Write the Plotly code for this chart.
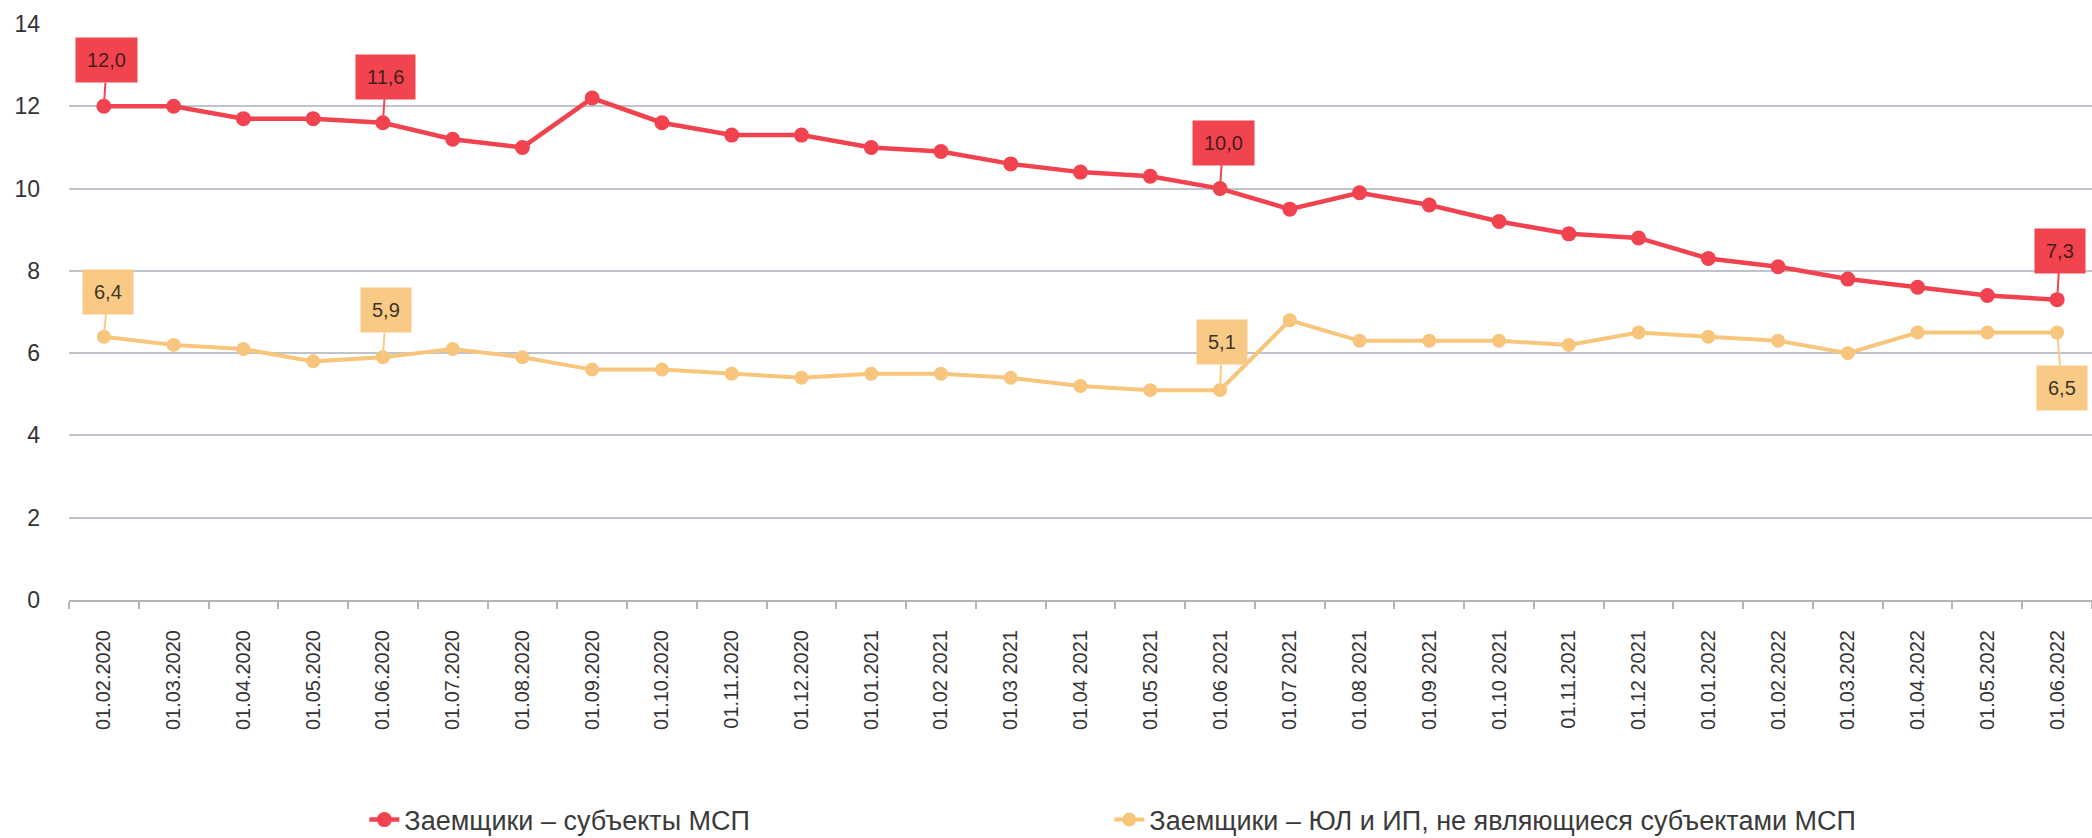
import plotly.graph_objects as go

dates = ["01.02.2020", "01.03.2020", "01.04.2020", "01.05.2020", "01.06.2020", "01.07.2020",
         "01.08.2020", "01.09.2020", "01.10.2020", "01.11.2020", "01.12.2020", "01.01.2021",
         "01.02 2021", "01.03 2021", "01.04 2021", "01.05 2021", "01.06 2021", "01.07 2021",
         "01.08 2021", "01.09 2021", "01.10 2021", "01.11.2021", "01.12 2021", "01.01.2022",
         "01.02.2022", "01.03.2022", "01.04.2022", "01.05.2022", "01.06.2022"]

msp = [12.0, 12.0, 11.7, 11.7, 11.6, 11.2, 11.0, 12.2, 11.6, 11.3, 11.3, 11.0, 10.9, 10.6, 10.4,
       10.3, 10.0, 9.5, 9.9, 9.6, 9.2, 8.9, 8.8, 8.3, 8.1, 7.8, 7.6, 7.4, 7.3]

non_msp = [6.4, 6.2, 6.1, 5.8, 5.9, 6.1, 5.9, 5.6, 5.6, 5.5, 5.4, 5.5, 5.5, 5.4, 5.2,
           5.1, 5.1, 6.8, 6.3, 6.3, 6.3, 6.2, 6.5, 6.4, 6.3, 6.0, 6.5, 6.5, 6.5]

series_names = ["Заемщики – субъекты МСП",
                "Заемщики – ЮЛ и ИП, не являющиеся субъектами МСП"]

labelled_idx = [0, 4, 16, 28]

RED = "#F0434F"
RED_BOX = "#F2444F"
ORANGE = "#F8C57C"
ORANGE_BOX = "#F9CA86"
FONT = "Liberation Sans, Arial, sans-serif"

fig = go.Figure()
fig.add_trace(go.Scatter(x=dates, y=msp, name=series_names[0], mode="lines+markers",
                         line=dict(color=RED, width=4.5),
                         marker=dict(color=RED, size=15, symbol="circle")))
fig.add_trace(go.Scatter(x=dates, y=non_msp, name=series_names[1], mode="lines+markers",
                         line=dict(color=ORANGE, width=4),
                         marker=dict(color=ORANGE, size=14, symbol="circle")))

def fmt(v):
    return f"{v:.1f}".replace(".", ",")

red_offsets = [(3, -46), (3, -46), (3, -46), (3, -49)]
orange_offsets = [(4, -45), (3, -47), (2, -48), (5, 55)]

for k, i in enumerate(labelled_idx):
    ax, ay = red_offsets[k]
    fig.add_annotation(x=dates[i], y=msp[i], text=fmt(msp[i]), showarrow=True,
                       arrowhead=0, arrowwidth=2, arrowcolor=RED_BOX, ax=ax, ay=ay,
                       bgcolor=RED_BOX, borderpad=11,
                       font=dict(family=FONT, size=20, color="#4a1c1c"))
    ax, ay = orange_offsets[k]
    fig.add_annotation(x=dates[i], y=non_msp[i], text=fmt(non_msp[i]), showarrow=True,
                       arrowhead=0, arrowwidth=2, arrowcolor=ORANGE_BOX, ax=ax, ay=ay,
                       bgcolor=ORANGE_BOX, borderpad=11,
                       font=dict(family=FONT, size=20, color="#3d3526"))

fig.update_layout(
    width=2092, height=838,
    margin=dict(l=69, r=0, t=24, b=238, autoexpand=False),
    paper_bgcolor="white", plot_bgcolor="white",
    font=dict(family=FONT, color="#333333"),
    showlegend=True,
    legend=dict(orientation="h", x=0.146, xanchor="left", y=-0.382, yanchor="middle",
                entrywidth=700, font=dict(family=FONT, size=27, color="#3a3a3a"),
                bgcolor="rgba(0,0,0,0)"),
    xaxis=dict(type="category", range=[-0.5, 28.5], tickangle=-90, automargin=False,
               tickfont=dict(family=FONT, size=20, color="#333333"),
               showgrid=False, showline=True, linecolor="#b5b5b5", linewidth=2,
               ticks="outside", tickson="boundaries", ticklen=7, tickcolor="#b5b5b5",
               tickwidth=1.5, ticklabelstandoff=20),
    yaxis=dict(range=[0, 14], dtick=2, tick0=0, showgrid=True, gridcolor="#bfc3cb",
               gridwidth=2, zeroline=False, showline=False, automargin=False,
               tickfont=dict(family=FONT, size=23, color="#333333"),
               ticklabelstandoff=28),
)

fig.write_html("out.html", config={"displayModeBar": False},
               post_script="document.body.style.margin='0';document.body.style.overflow='hidden';")
